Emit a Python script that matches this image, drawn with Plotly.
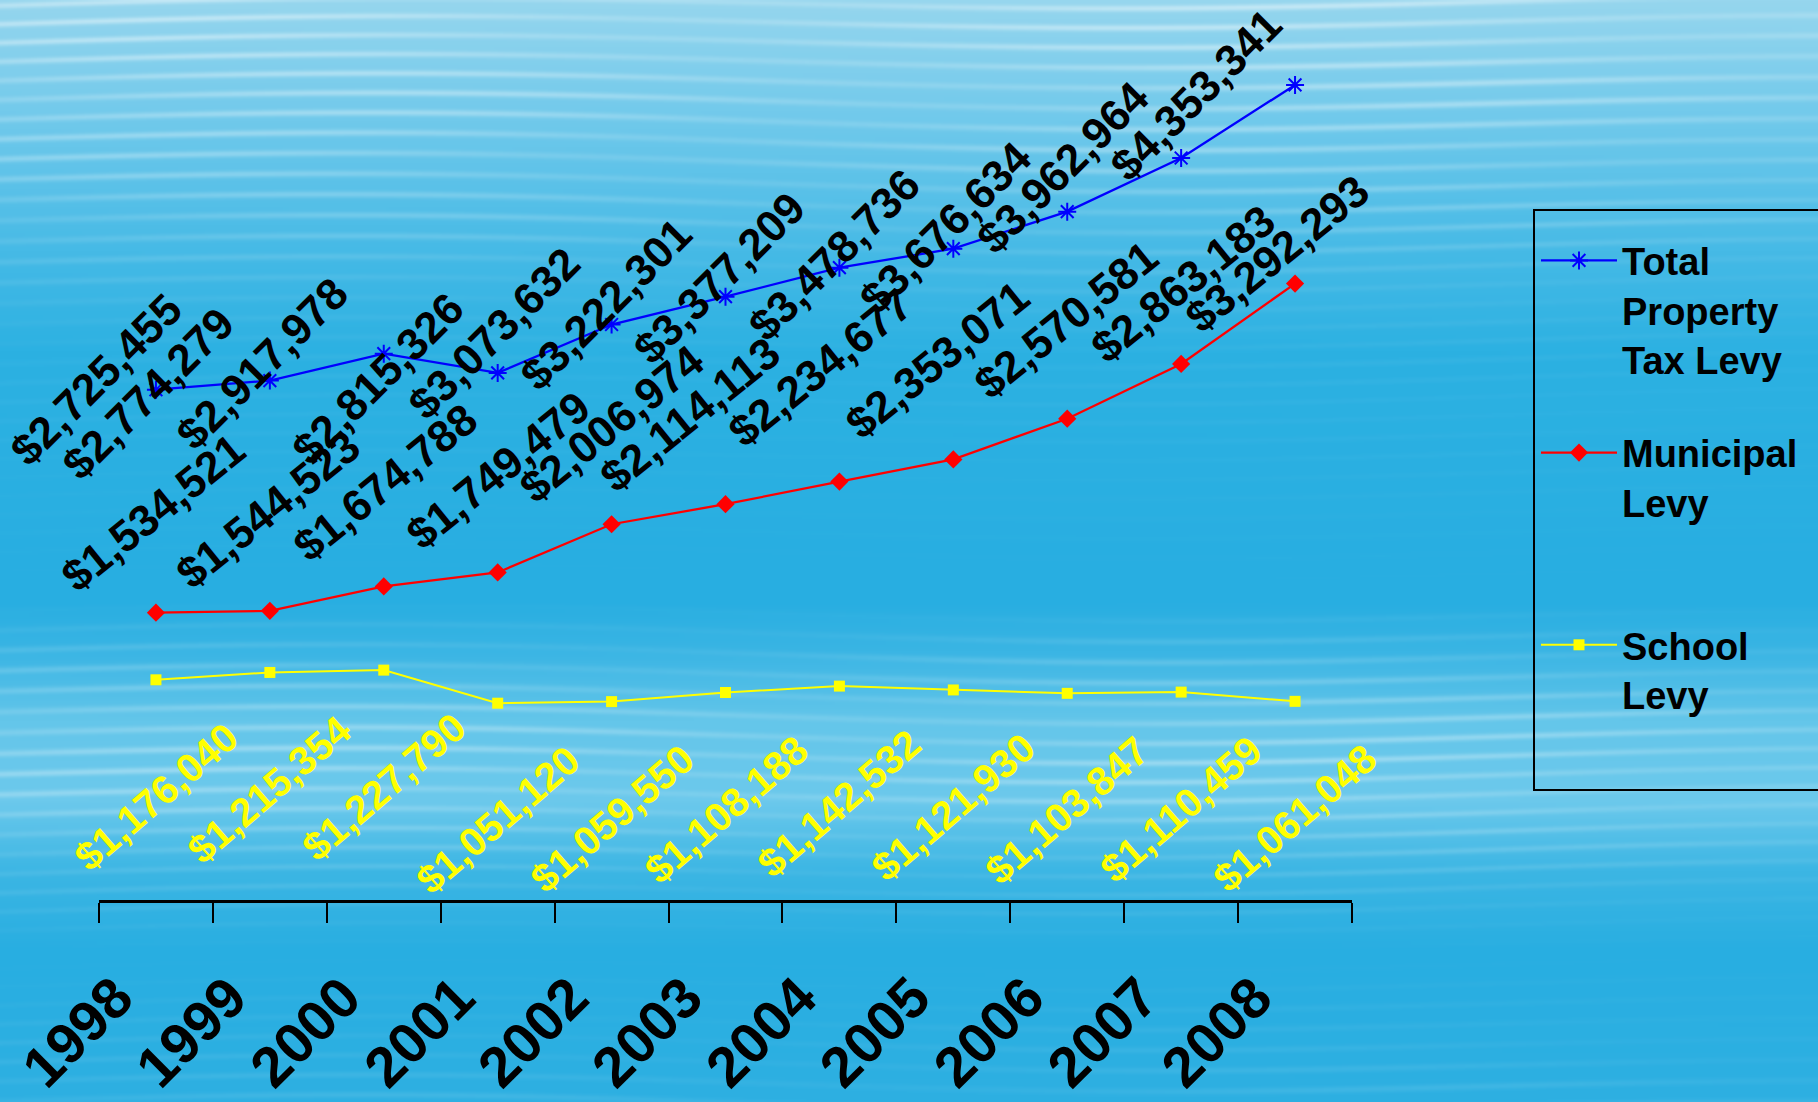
import base64
import struct
import zlib

import numpy as np
import plotly.graph_objects as go

# ---------------- data ----------------
years = ["1998", "1999", "2000", "2001", "2002", "2003", "2004", "2005", "2006", "2007", "2008"]
total_levy = [2725455, 2774279, 2917978, 2815326, 3073632, 3222301, 3377209, 3478736, 3676634, 3962964, 4353341]
municipal_levy = [1534521, 1544523, 1674788, 1749479, 2006974, 2114113, 2234677, 2353071, 2570581, 2863183, 3292293]
school_levy = [1176040, 1215354, 1227790, 1051120, 1059550, 1108188, 1142532, 1121930, 1103847, 1110459, 1061048]
series_names = ["Total<br>Property<br>Tax Levy", "Municipal<br>Levy<br> ", "School<br>Levy<br> "]

# label placement offsets in pixels (layout only): (dx, dy) with dy positive = down
total_label_off = [(-60, -10), (-122, 13), (-122, 10), (-120, 6), (-118, 9), (-120, 8),
                   (-120, 10), (-119, 6), (-122, 16), (-119, 9), (-99, 10)]
muni_label_off = [(-3, -100), (-2, -101), (1, -104), (0, -102), (0, -101), (-36, -90),
                  (-19, -114), (-16, -100), (-1, -99), (2, -80), (-18, -30)]
school_label_off = [(0, 117)] * 11

W_FIG, H_FIG = 1818, 1102
M_L, M_R, M_T, M_B = 99, 466, 0, 202
PW, PH = W_FIG - M_L - M_R, H_FIG - M_T - M_B


# ---------------- background texture (decorative) ----------------
def make_png(arr):
    h, w, _ = arr.shape
    raw = b"".join(b"\x00" + arr[r].tobytes() for r in range(h))

    def chunk(t, d):
        c = struct.pack(">I", len(d)) + t + d
        return c + struct.pack(">I", zlib.crc32(t + d) & 0xFFFFFFFF)

    return (b"\x89PNG\r\n\x1a\n"
            + chunk(b"IHDR", struct.pack(">IIBBBBB", w, h, 8, 2, 0, 0, 0))
            + chunk(b"IDAT", zlib.compress(raw, 9))
            + chunk(b"IEND", b""))


BW, BH = 606, 551
xs = np.arange(BW) * (W_FIG / BW)
ys = np.arange(BH) * (H_FIG / BH)
X, Y = np.meshgrid(xs, ys)
key_y = [0, 120, 250, 350, 600, 650, 720, 800, 870, 950, 1102]
key_c = [(150, 214, 238), (112, 201, 235), (70, 186, 230), (44, 177, 226), (40, 174, 225),
         (58, 181, 228), (100, 198, 234), (108, 201, 236), (60, 182, 228), (40, 174, 225), (46, 176, 226)]
base = np.zeros((BH, BW, 3))
for ch in range(3):
    base[:, :, ch] = np.interp(Y, key_y, [c[ch] for c in key_c])
wave = 0.5 + 0.5 * np.sin(Y * 0.32 + 2.2 * np.sin(X * 0.0042) + 1.4 * np.sin(X * 0.0011 + Y * 0.013))
wave2 = 0.5 + 0.5 * np.sin(X * 0.006 + 0.8 * np.sin(Y * 0.05))
env = np.interp(Y, [0, 150, 300, 600, 680, 760, 850, 950, 1102], [0.45, 0.3, 0.05, 0.0, 0.2, 0.35, 0.15, 0.0, 0.1])
k = env * (wave ** 4) * (0.4 + 0.6 * wave2)
img = base + (255 - base) * k[:, :, None]
img = np.clip(img, 0, 255).astype(np.uint8)
bg_uri = "data:image/png;base64," + base64.b64encode(make_png(img)).decode()

# ---------------- figure ----------------
fig = go.Figure()
fig.add_trace(go.Scatter(x=years, y=total_levy, name=series_names[0], mode="lines+markers",
                         line=dict(color="#0000ff", width=2.3),
                         marker=dict(symbol="asterisk-open", size=15, color="#0000ff",
                                     line=dict(color="#0000ff", width=2)),
                         legendgroup="a"))
fig.add_trace(go.Scatter(x=years, y=municipal_levy, name=series_names[1], mode="lines+markers",
                         line=dict(color="#ff0000", width=2.3),
                         marker=dict(symbol="diamond", size=14, color="#ff0000"),
                         legendgroup="b"))
fig.add_trace(go.Scatter(x=years, y=school_levy, name=series_names[2], mode="lines+markers",
                         line=dict(color="#ffff00", width=2),
                         marker=dict(symbol="square", size=11, color="#ffff00"),
                         legendgroup="c"))

FAMILY = "Liberation Sans, Arial, sans-serif"
label_font_black = dict(family=FAMILY, size=44, color="black", weight="bold")
label_font_yellow = dict(family=FAMILY, size=40, color="#ffff00", weight="bold")

for vals, offs, fnt, ang in [(total_levy, total_label_off, label_font_black, -45),
                             (municipal_levy, muni_label_off, label_font_black, -39),
                             (school_levy, school_label_off, label_font_yellow, -41)]:
    for i, (v, (dx, dy)) in enumerate(zip(vals, offs)):
        fig.add_annotation(x=i, y=v, xref="x", yref="y", text=f"${v:,}", showarrow=False,
                           textangle=ang, xanchor="center", yanchor="middle",
                           xshift=dx, yshift=-dy, font=fnt)

# legend frame (drawn as a layout shape, extends past the right edge like the reference)
fig.add_shape(type="rect", xref="paper", yref="paper",
              x0=(1534 - M_L) / PW, x1=(1840 - M_L) / PW,
              y0=1 - (790 - M_T) / PH, y1=1 - (210 - M_T) / PH,
              line=dict(color="black", width=2), fillcolor="rgba(0,0,0,0)", layer="above")

fig.update_layout(
    width=W_FIG, height=H_FIG,
    margin=dict(l=M_L, r=M_R, t=M_T, b=M_B, autoexpand=False),
    paper_bgcolor="#2aaee0",
    plot_bgcolor="rgba(0,0,0,0)",
    images=[dict(source=bg_uri, xref="paper", yref="paper",
                 x=-M_L / PW, y=1 + M_T / PH, sizex=W_FIG / PW, sizey=H_FIG / PH,
                 xanchor="left", yanchor="top", sizing="stretch", layer="below")],
    showlegend=True,
    legend=dict(xref="container", yref="container", x=1536 / W_FIG, y=1 - 211 / H_FIG,
                xanchor="left", yanchor="top", borderwidth=0, maxheight=1000,
                bgcolor="rgba(0,0,0,0)", itemwidth=76, tracegroupgap=41, valign="top",
                title=dict(text=" ", font=dict(size=14)),
                font=dict(family=FAMILY, size=38, color="black", weight="bold")),
    xaxis=dict(type="category", range=[-0.5, 10.5], showgrid=False, zeroline=False, automargin=False,
               showline=True, linecolor="black", linewidth=3,
               ticks="outside", tickson="boundaries", ticklen=20, tickwidth=1.5, tickcolor="black",
               tickangle=-45, ticklabelstandoff=38, ticklabelshift=-40,
               tickfont=dict(family=FAMILY, size=57, color="black", weight="bold")),
    yaxis=dict(range=[0, 4807000], visible=False, showgrid=False, zeroline=False, automargin=False),
)

fig.write_html("out.html", config={"displayModeBar": False},
               post_script="document.body.style.margin='0';document.body.style.overflow='hidden';")
